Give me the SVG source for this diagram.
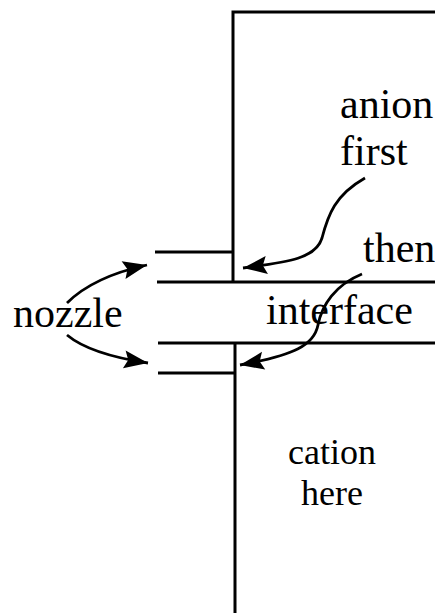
<svg xmlns="http://www.w3.org/2000/svg" width="435" height="613" viewBox="0 0 435 613">
  <style>
    .wall { stroke: #000; stroke-width: 3; fill: none; }
    .arc { stroke: #000; stroke-width: 2.8; fill: none; marker-end: url(#head); }
    .lbl { font-family: "Liberation Serif", "Times New Roman", serif; font-size: 42px; fill: #000; }
    .sm { font-size: 36px; }
  </style>
  <defs>
    <marker id="head" markerUnits="userSpaceOnUse" markerWidth="28" markerHeight="20" refX="24" refY="9" orient="auto" overflow="visible">
      <path d="M0,0 L24,9 L0,18 L4,9 Z" fill="#000"/>
    </marker>
  </defs>
  <rect width="435" height="613" fill="#fff"/>

  <g id="upper-chamber">
    <path class="wall" d="M435,12 H233 V282"/>
  </g>
  <g id="interface-channel">
    <path class="wall" d="M157,282 H435"/>
    <path class="wall" d="M158,343 H435"/>
  </g>
  <g id="lower-chamber">
    <path class="wall" d="M235,343 V613"/>
  </g>
  <g id="nozzle-upper">
    <path class="wall" d="M155,252 H233"/>
  </g>
  <g id="nozzle-lower">
    <path class="wall" d="M158,373 H235"/>
  </g>

  <g id="labels">
    <text class="lbl" x="340" y="118">anion</text>
    <text class="lbl" x="340" y="165">first</text>
    <text class="lbl" x="363" y="262">then</text>
    <text class="lbl" x="266" y="324">interface</text>
    <text class="lbl" x="13" y="327">nozzle</text>
    <text class="lbl sm" x="332" y="464" text-anchor="middle">cation</text>
    <text class="lbl sm" x="332" y="505" text-anchor="middle">here</text>
  </g>

  <g id="connectors">
    <path class="arc" d="M365,178 C335,195 328,215 322,238 C316,258 290,262 243,268"/>
    <path class="arc" d="M362,274 C335,285 322,305 318,325 C314,345 295,355 240,365"/>
    <path class="arc" d="M67,303 C85,285 115,272 147,265"/>
    <path class="arc" d="M67,335 C85,350 115,358 148,363"/>
  </g>
</svg>
